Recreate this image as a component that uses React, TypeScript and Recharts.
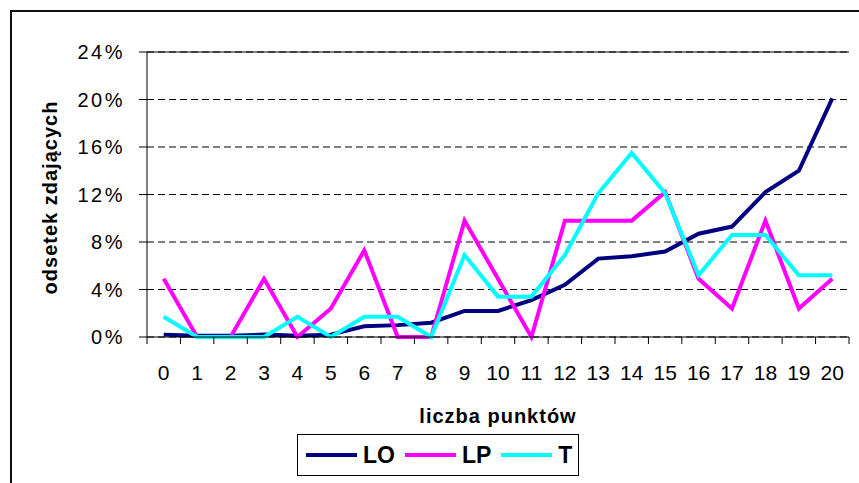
import React from "react";
import {
  CartesianGrid,
  Legend,
  Line,
  LineChart,
  ReferenceLine,
  XAxis,
  YAxis,
} from "recharts";

const categories = ["0", "1", "2", "3", "4", "5", "6", "7", "8", "9", "10", "11", "12", "13", "14", "15", "16", "17", "18", "19", "20"];
const lo = [0.2, 0.1, 0.1, 0.2, 0.1, 0.2, 0.9, 1.0, 1.2, 2.2, 2.2, 3.1, 4.4, 6.6, 6.8, 7.2, 8.7, 9.3, 12.2, 14.0, 20.1];
const lp = [4.9, 0, 0, 4.9, 0, 2.4, 7.3, 0, 0, 9.8, 4.9, 0, 9.8, 9.8, 9.8, 12.2, 4.9, 2.4, 9.8, 2.4, 4.9];
const t = [1.7, 0, 0, 0, 1.7, 0, 1.7, 1.7, 0, 6.9, 3.4, 3.4, 6.9, 12.1, 15.5, 12.1, 5.2, 8.6, 8.6, 5.2, 5.2];
const yTicks = [0, 4, 8, 12, 16, 20, 24];
const seriesNames = ["LO", "LP", "T"];
const seriesColors = ["#000080", "#FF00FF", "#00FFFF"];

const data = categories.map((c, i) => ({ x: i, LO: lo[i], LP: lp[i], T: t[i] }));

// integer ticks get labels, half steps get the little tick marks between categories
const xTicks: number[] = [];
for (let i = 0; i <= categories.length * 2; i++) xTicks.push(i / 2 - 0.5);

const FONT = "'Liberation Sans', Arial, sans-serif";

const XTick = (props: any) => {
  const { x, y, payload } = props;
  const v = payload.value;
  if (Number.isInteger(v)) {
    return (
      <text x={x} y={y + 43} textAnchor="middle" fontSize={21} fontFamily={FONT} fill="#000">
        {categories[v]}
      </text>
    );
  }
  return <line x1={x} x2={x} y1={y} y2={y + 7} stroke="#000" strokeWidth={1} />;
};

const YTitle = (props: any) => {
  const { viewBox } = props;
  const cx = viewBox.x + 30;
  const cy = viewBox.y + viewBox.height / 2 + 3;
  return (
    <text
      x={cx}
      y={cy}
      transform={`rotate(-90 ${cx} ${cy})`}
      textAnchor="middle"
      dominantBaseline="central"
      fontSize={20}
      fontWeight="bold"
      letterSpacing={1}
      fontFamily={FONT}
      fill="#000"
    >
      odsetek zdających
    </text>
  );
};

const LegendBox = () => (
  <div
    style={{
      border: "1px solid #000",
      height: 42,
      display: "flex",
      alignItems: "center",
      paddingLeft: 8,
      boxSizing: "border-box",
      background: "#fff",
      fontFamily: FONT,
      fontWeight: "bold",
      fontSize: 23,
    }}
  >
    {seriesNames.map((n, i) => (
      <div key={n} style={{ display: "flex", alignItems: "center", marginRight: 10 }}>
        <svg width={51} height={6}>
          <line x1={0} x2={51} y1={3} y2={3} stroke={seriesColors[i]} strokeWidth={4} />
        </svg>
        <span style={{ marginLeft: 6, lineHeight: "24px" }}>{n}</span>
      </div>
    ))}
  </div>
);

export default function App() {
  return (
    <div style={{ position: "fixed", left: 0, top: 0, width: 859, height: 483, overflow: "hidden", background: "#fff" }}>
      <div
        style={{
          position: "absolute",
          left: 10,
          top: 10,
          width: 1000,
          height: 1000,
          border: "2px solid #111",
        }}
      />
      <div style={{ position: "absolute", left: 0, top: 0 }}>
        <LineChart width={859} height={483} data={data} margin={{ top: 52, right: 10, left: 20, bottom: 56 }}>
          <CartesianGrid vertical={false} stroke="#000" strokeDasharray="7 4" />
          <XAxis
            dataKey="x"
            type="number"
            domain={[-0.5, 20.5]}
            ticks={xTicks}
            interval={0}
            tick={<XTick />}
            tickLine={false}
            tickSize={0}
            tickMargin={0}
            height={90}
            stroke="#000"
            label={{
              value: "liczba punktów",
              position: "insideBottom",
              offset: 4,
              fontSize: 20,
              fontWeight: "bold",
              letterSpacing: 1,
              fontFamily: FONT,
              fill: "#000",
            }}
          />
          <YAxis
            domain={[0, 24]}
            ticks={yTicks}
            width={127}
            tickSize={8}
            tickMargin={14}
            tickFormatter={(v) => `${v}%`}
            tick={{ fontSize: 20, fill: "#000", fontFamily: FONT, letterSpacing: 2.5 }}
            stroke="#000"
            label={<YTitle />}
          />
          <YAxis yAxisId="r" orientation="right" domain={[0, 24]} width={0} tick={false} tickLine={false} stroke="#808080" />
          <ReferenceLine y={24} stroke="#000" strokeWidth={1} />
          {seriesNames.map((n, i) => (
            <Line
              key={n}
              dataKey={n}
              stroke={seriesColors[i]}
              strokeWidth={4}
              dot={false}
              activeDot={false}
              isAnimationActive={false}
            />
          ))}
          <Legend
            layout="horizontal"
            verticalAlign="middle"
            align="center"
            content={<LegendBox />}
            wrapperStyle={{ left: 297, top: 434, width: 282, height: 44 }}
          />
        </LineChart>
      </div>
    </div>
  );
}
